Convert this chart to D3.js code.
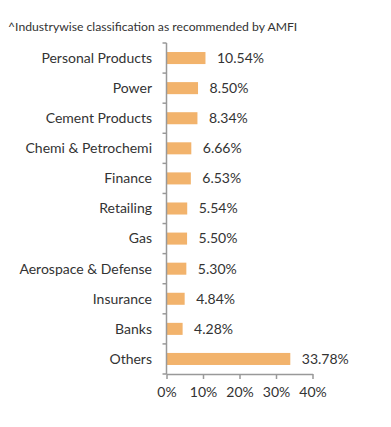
<!DOCTYPE html>
<html><head><meta charset="utf-8">
<script src="https://cdn.jsdelivr.net/npm/d3@7"></script>
<style>body{margin:0;background:#fff}text{font-family:Lato,"Open Sans",sans-serif}</style>
</head><body>
<script>
const categories = ["Personal Products","Power","Cement Products","Chemi & Petrochemi","Finance","Retailing","Gas","Aerospace & Defense","Insurance","Banks","Others"];
const values = [10.54,8.50,8.34,6.66,6.53,5.54,5.50,5.30,4.84,4.28,33.78];
const tickValues = [0,10,20,30,40];
const title = "^Industrywise classification as recommended by AMFI";

const W=391,H=427;
const svg=d3.select("body").append("svg").attr("width",W).attr("height",H);
const x=d3.scaleLinear().domain([0,40]).range([166.5,312.5]);
const y=d3.scaleBand().domain(categories).range([43,374]).paddingInner(0.6).paddingOuter(0.3);
const ylines=d3.scaleBand().domain(categories).range([43,374]);

svg.append("text").attr("x",8).attr("y",31).attr("font-size",12.2).attr("fill","#333").text(title);

// bars
svg.selectAll("rect.bar").data(values).join("rect").attr("class","bar")
 .attr("x",x(0)+0.5).attr("y",(d,i)=>y(categories[i]))
 .attr("width",d=>x(d)-x(0)).attr("height",y.bandwidth())
 .attr("fill","#F2B36C");

// value labels
svg.selectAll("text.val").data(values).join("text").attr("class","val")
 .attr("x",d=>x(d)+12).attr("y",(d,i)=>y(categories[i])+y.bandwidth()/2)
 .attr("dy","0.35em").attr("font-size",14).attr("fill","#333")
 .text(d=>d.toFixed(2)+"%");

// category labels
svg.selectAll("text.cat").data(categories).join("text").attr("class","cat")
 .attr("x",152).attr("y",d=>ylines(d)+ylines.bandwidth()/2)
 .attr("dy","0.35em").attr("text-anchor","end").attr("font-size",14).attr("fill","#333")
 .text(d=>d);

const ax="#999";
// y axis line and ticks at band boundaries
svg.append("line").attr("x1",x(0)).attr("x2",x(0)).attr("y1",43).attr("y2",374).attr("stroke",ax).attr("stroke-width",1.5);
const bounds=categories.map(c=>ylines(c)).concat([374]);
svg.selectAll("line.yt").data(bounds).join("line").attr("class","yt")
 .attr("x1",x(0)-4).attr("x2",x(0)).attr("y1",d=>d).attr("y2",d=>d).attr("stroke",ax).attr("stroke-width",1.5);

// x axis
const xa=svg.append("g").attr("transform","translate(0,374)")
 .call(d3.axisBottom(x).tickValues(tickValues).tickFormat(d=>d+"%").tickSize(5).tickSizeOuter(0));
xa.select(".domain").attr("stroke",ax).attr("stroke-width",1.5);
xa.selectAll(".tick line").attr("stroke",ax).attr("stroke-width",1.5);
xa.selectAll(".tick text").attr("font-size",14).attr("fill","#333").attr("font-family","Lato,sans-serif").attr("dy","1.1em");
</script>
</body></html>
